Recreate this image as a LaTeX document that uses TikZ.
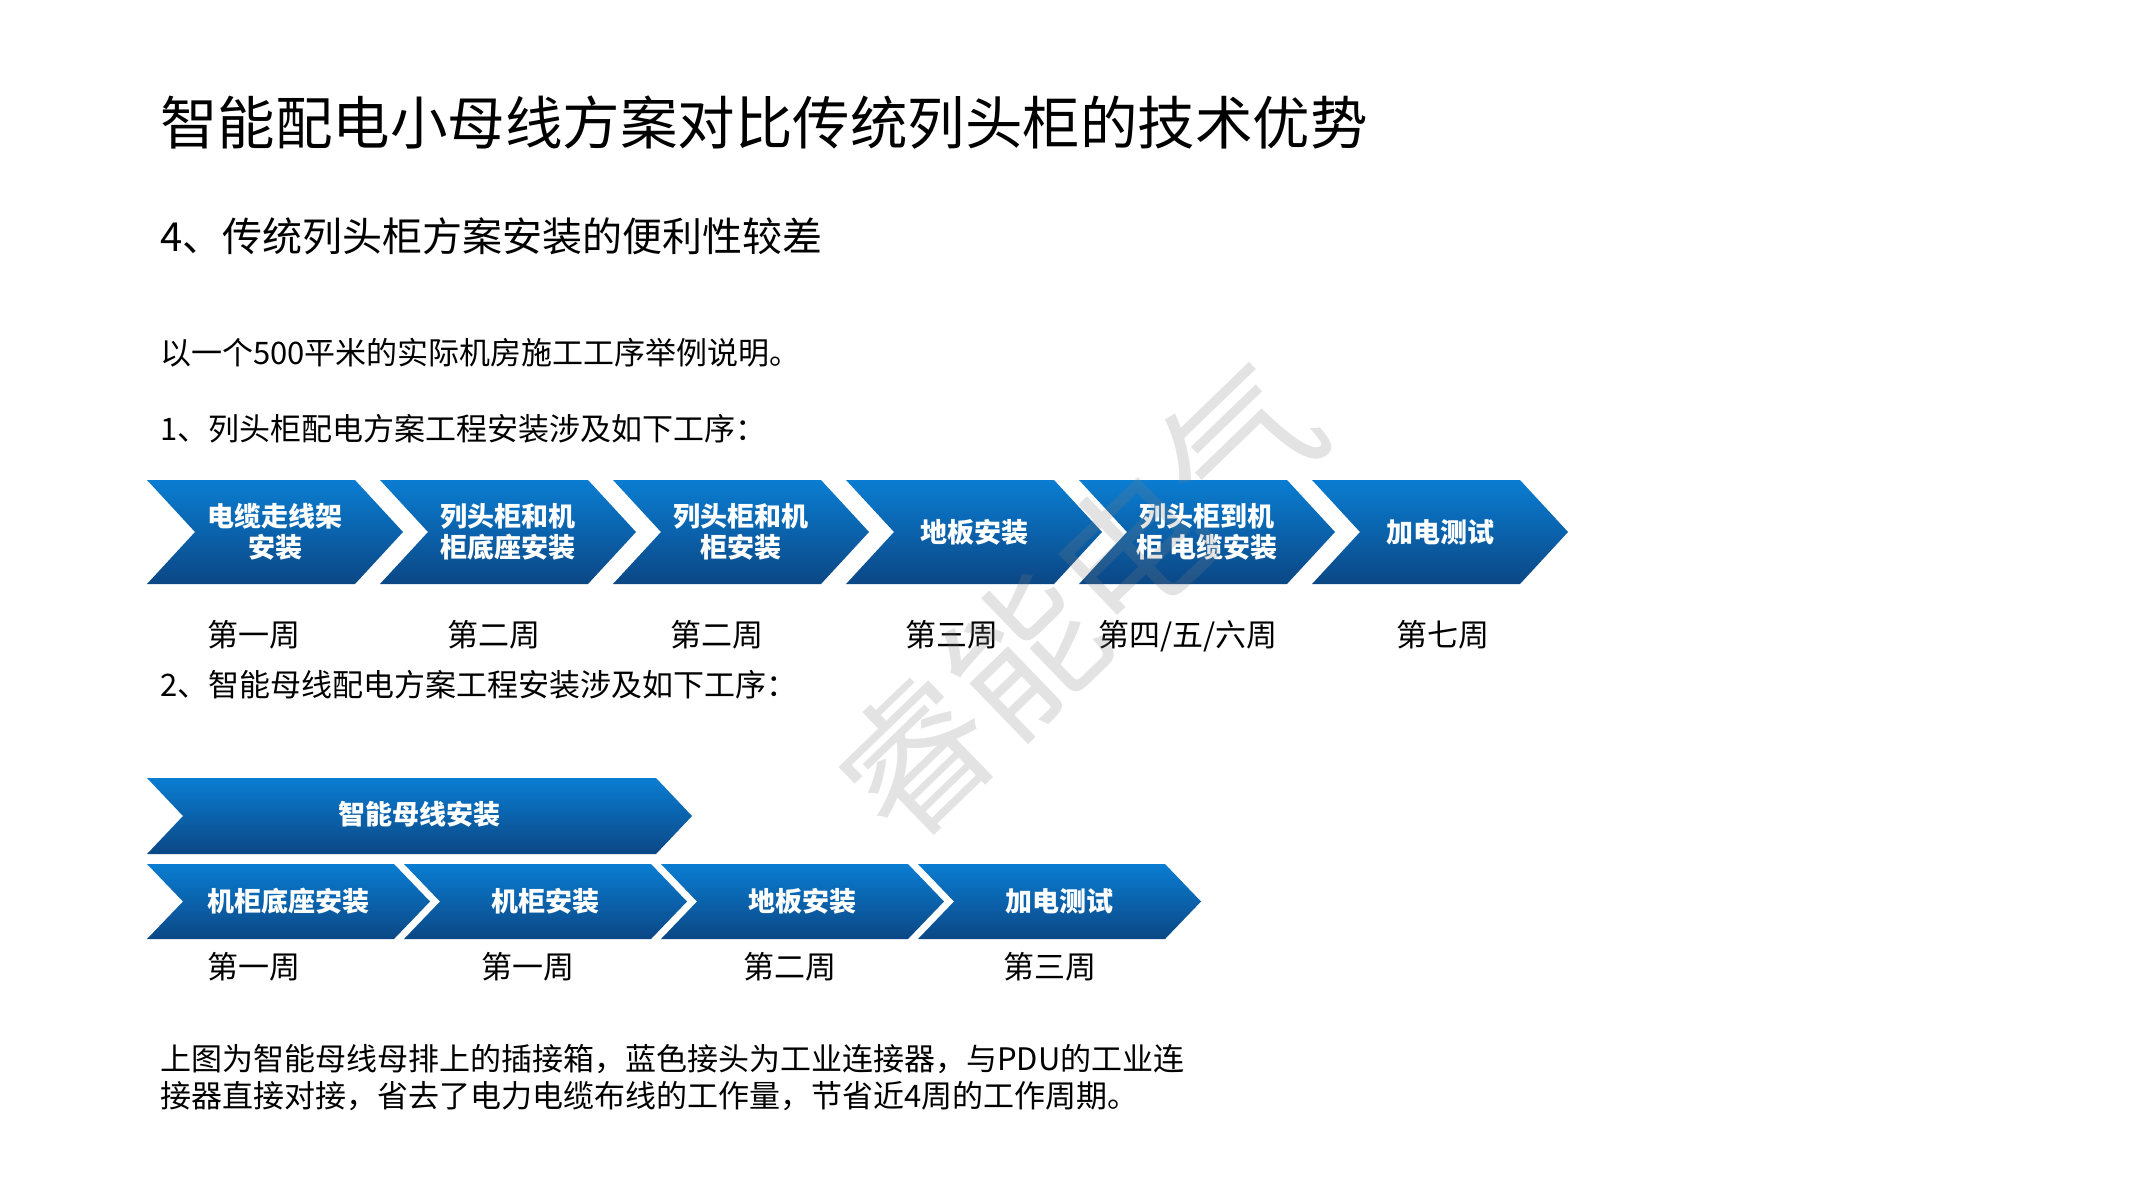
\documentclass[tikz,border=0pt]{standalone}
\usepackage{fontspec}
\setmainfont{Noto Sans CJK SC}
\usetikzlibrary{positioning}
\definecolor{chevtop}{HTML}{0A7DD2}
\definecolor{chevbot}{HTML}{0B4785}
\newcommand{\chev}[5]{% left, top, width to tip, height, tip depth
  \shade[chev] (#1,#2) -- ++(#3-#5,0) -- ++(#5,#4/2) -- ++(-#5,#4/2)
    -- ++(#5-#3,0) -- ++(#5,-#4/2) -- cycle;}

\begin{document}
\begin{tikzpicture}[x=1pt, y=-1pt,
  chev/.style={top color=chevtop, bottom color=chevbot, draw=none},
  steptxt/.style={text=white, font=\bfseries\fontsize{27}{31}\selectfont,
                  align=center, inner sep=0pt},
  week/.style={font=\fontsize{31}{36}\selectfont, inner sep=0pt,
               text height=0.88em, text depth=0.12em},
  txt/.style={anchor=west, inner sep=0pt, text height=0.88em, text depth=0.12em},
  wm/.style={rotate=44, text=gray, text opacity=0.22,
             font=\fontsize{150}{150}\selectfont, inner sep=0pt}
]
  \useasboundingbox (0,0) rectangle (2133,1200);
  \fill[white] (0,0) rectangle (2133,1200);

  \node[txt, font=\fontsize{57.5}{68}\selectfont] (title) at (160,141)
    {智能配电小母线方案对比传统列头柜的技术优势};
  \node[txt, font=\fontsize{40}{48}\selectfont] (sub) at (160,248)
    {4、传统列头柜方案安装的便利性较差};
  \node[txt, font=\fontsize{31}{36}\selectfont] (intro) at (160,361)
    {以一个500平米的实际机房施工工序举例说明。};
  \node[txt, font=\fontsize{31}{36}\selectfont] (head1) at (160,437)
    {1、列头柜配电方案工程安装涉及如下工序：};

  \foreach \i/\lab in {0/{电缆走线架\\安装}, 1/{列头柜和机\\柜底座安装},
      2/{列头柜和机\\柜安装}, 3/地板安装, 4/{列头柜到机\\柜 电缆安装}, 5/加电测试}{
    \chev{147+233*\i}{480}{256}{104}{48}
    \node[steptxt] (c\i) at (275+233*\i,532) {\lab};
  }
  \foreach \i/\wk/\wx in {0/第一周/254, 1/第二周/494, 2/第二周/717,
      3/第三周/952, 4/{第四/五/六周}/1188, 5/第七周/1443}
    \node[week] (w\i) at (\wx,643) {\wk};

  \node[txt, font=\fontsize{31}{36}\selectfont] (head2) at (160,693)
    {2、智能母线配电方案工程安装涉及如下工序：};

  \chev{147}{778}{545}{76}{36}
  \node[steptxt] (bus) at (419,814) {智能母线安装};

  \foreach \i/\lab/\wk/\wx in {0/机柜底座安装/第一周/254, 1/机柜安装/第一周/528,
      2/地板安装/第二周/790, 3/加电测试/第三周/1050}{
    \chev{147+257*\i}{864}{283}{75}{36}
    \node[steptxt] (d\i) at (288+257*\i,901) {\lab};
    \node[week] (v\i) at (\wx,975) {\wk};
  }

  \node[txt, font=\fontsize{31}{36}\selectfont] (note1) at (160,1067)
    {上图为智能母线母排上的插接箱，蓝色接头为工业连接器，与PDU的工业连};
  \node[txt, font=\fontsize{31}{36}\selectfont] (note2) at (160,1104)
    {接器直接对接，省去了电力电缆布线的工作量，节省近4周的工作周期。};

  \node[wm] (mark) at (1078,601) {睿能电气};
\end{tikzpicture}
\end{document}
